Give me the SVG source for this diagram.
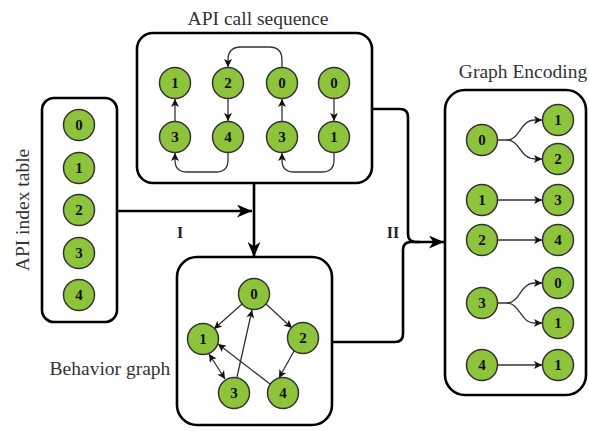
<svg xmlns="http://www.w3.org/2000/svg" width="589" height="431" viewBox="0 0 589 431">
<defs>
<style>
.box{fill:#fff;stroke:#000;stroke-width:2.6}
.n circle{fill:#8dc43c;stroke:#333;stroke-width:1.5}
.n text{font-family:"Liberation Serif",serif;font-weight:bold;font-size:15px;fill:#111;text-anchor:middle}
.title{font-family:"Liberation Serif",serif;font-size:19.5px;fill:#333;text-anchor:middle}
.lbl{font-family:"Liberation Serif",serif;font-weight:bold;font-size:16px;fill:#222;text-anchor:middle}
.e{fill:none;stroke:#333;stroke-width:1.3}
.c{fill:none;stroke:#000;stroke-width:2.6}
</style>
<marker id="a" viewBox="0 0 10 10" refX="10" refY="5" markerWidth="8" markerHeight="8" markerUnits="userSpaceOnUse" orient="auto">
<path d="M0,0 L10,5 L0,10 L2.5,5 z" fill="#111"/>
</marker>
<marker id="as" viewBox="0 0 10 10" refX="10" refY="5" markerWidth="8" markerHeight="8" markerUnits="userSpaceOnUse" orient="auto-start-reverse">
<path d="M0,0 L10,5 L0,10 L2.5,5 z" fill="#111"/>
</marker>
<marker id="A" viewBox="0 0 14 12" refX="14" refY="6" markerWidth="15" markerHeight="13" markerUnits="userSpaceOnUse" orient="auto">
<path d="M0,0 L14,6 L0,12 L4,6 z" fill="#000"/>
</marker>
</defs>

<!-- API call sequence -->
<g id="api-call-sequence">
<text class="title" x="258" y="25">API call sequence</text>
<rect class="box" x="137" y="33" width="235" height="150" rx="16"/>
<g class="n"><circle cx="175" cy="83" r="15.5"/><text x="175" y="88">1</text></g>
<g class="n"><circle cx="228" cy="83" r="15.5"/><text x="228" y="88">2</text></g>
<g class="n"><circle cx="282" cy="83" r="15.5"/><text x="282" y="88">0</text></g>
<g class="n"><circle cx="334" cy="83" r="15.5"/><text x="334" y="88">0</text></g>
<g class="n"><circle cx="175" cy="137" r="15.5"/><text x="175" y="142">3</text></g>
<g class="n"><circle cx="228" cy="137" r="15.5"/><text x="228" y="142">4</text></g>
<g class="n"><circle cx="282" cy="137" r="15.5"/><text x="282" y="142">3</text></g>
<g class="n"><circle cx="334" cy="137" r="15.5"/><text x="334" y="142">1</text></g>
<path class="e" d="M175,121 V99" marker-end="url(#a)"/>
<path class="e" d="M228,99 V121" marker-end="url(#a)"/>
<path class="e" d="M282,121 V99" marker-end="url(#a)"/>
<path class="e" d="M334,99 V121" marker-end="url(#a)"/>
<path class="e" d="M282,67 V60 Q282,47 269,47 H241 Q228,47 228,60 V67" marker-end="url(#a)"/>
<path class="e" d="M228,153 V160 Q228,172 216,172 H187 Q175,172 175,160 V153" marker-end="url(#a)"/>
<path class="e" d="M334,153 V160 Q334,172 322,172 H294 Q282,172 282,160 V153" marker-end="url(#a)"/>
</g>

<!-- API index table -->
<g id="api-index-table">
<text class="title" transform="translate(29,210) rotate(-90)">API index table</text>
<rect class="box" x="42" y="98" width="75" height="224" rx="12"/>
<g class="n"><circle cx="79" cy="125" r="15.5"/><text x="79" y="130">0</text></g>
<g class="n"><circle cx="79" cy="168" r="15.5"/><text x="79" y="173">1</text></g>
<g class="n"><circle cx="79" cy="210" r="15.5"/><text x="79" y="215">2</text></g>
<g class="n"><circle cx="79" cy="253" r="15.5"/><text x="79" y="258">3</text></g>
<g class="n"><circle cx="79" cy="295" r="15.5"/><text x="79" y="300">4</text></g>
</g>

<!-- Behavior graph -->
<g id="behavior-graph">
<text class="title" x="110" y="375">Behavior graph</text>
<rect class="box" x="177" y="257" width="155" height="168" rx="20"/>
<path class="e" d="M242,304 L214,329" marker-end="url(#a)"/>
<path class="e" d="M266,304 L292,328" marker-end="url(#a)"/>
<path class="e" d="M294,351 L279,378" marker-end="url(#a)"/>
<path class="e" d="M270,384 L218,344" marker-end="url(#a)"/>
<path class="e" d="M237,377 L252,310" marker-end="url(#a)"/>
<path class="e" d="M209,354 L225,379" marker-start="url(#as)" marker-end="url(#a)"/>
<g class="n"><circle cx="254" cy="294" r="15.5"/><text x="254" y="299">0</text></g>
<g class="n"><circle cx="203" cy="339" r="15.5"/><text x="203" y="344">1</text></g>
<g class="n"><circle cx="303" cy="338" r="15.5"/><text x="303" y="343">2</text></g>
<g class="n"><circle cx="234" cy="393" r="15.5"/><text x="234" y="398">3</text></g>
<g class="n"><circle cx="283" cy="393" r="15.5"/><text x="283" y="398">4</text></g>
</g>

<!-- Graph Encoding -->
<g id="graph-encoding">
<text class="title" x="523" y="78">Graph Encoding</text>
<rect class="box" x="445" y="90" width="141" height="305" rx="20"/>
<path class="e" d="M497,140 H507 C520,140 520,120 535,120 H542" marker-end="url(#a)"/>
<path class="e" d="M507,140 C520,140 520,159 535,159 H542" marker-end="url(#a)"/>
<path class="e" d="M497,200 H542" marker-end="url(#a)"/>
<path class="e" d="M497,240 H542" marker-end="url(#a)"/>
<path class="e" d="M497,303 H507 C520,303 520,283 535,283 H542" marker-end="url(#a)"/>
<path class="e" d="M507,303 C520,303 520,323 535,323 H542" marker-end="url(#a)"/>
<path class="e" d="M497,365 H542" marker-end="url(#a)"/>
<g class="n"><circle cx="482" cy="140" r="15.5"/><text x="482" y="145">0</text></g>
<g class="n"><circle cx="558" cy="120" r="15.5"/><text x="558" y="125">1</text></g>
<g class="n"><circle cx="558" cy="159" r="15.5"/><text x="558" y="164">2</text></g>
<g class="n"><circle cx="482" cy="200" r="15.5"/><text x="482" y="205">1</text></g>
<g class="n"><circle cx="558" cy="200" r="15.5"/><text x="558" y="205">3</text></g>
<g class="n"><circle cx="482" cy="240" r="15.5"/><text x="482" y="245">2</text></g>
<g class="n"><circle cx="558" cy="240" r="15.5"/><text x="558" y="245">4</text></g>
<g class="n"><circle cx="482" cy="303" r="15.5"/><text x="482" y="308">3</text></g>
<g class="n"><circle cx="558" cy="283" r="15.5"/><text x="558" y="288">0</text></g>
<g class="n"><circle cx="558" cy="323" r="15.5"/><text x="558" y="328">1</text></g>
<g class="n"><circle cx="482" cy="365" r="15.5"/><text x="482" y="370">4</text></g>
<g class="n"><circle cx="558" cy="365" r="15.5"/><text x="558" y="370">1</text></g>
</g>

<!-- Connectors -->
<g id="connectors">
<path class="c" d="M117,211 H252" marker-end="url(#A)"/>
<path class="c" d="M254,183 V257" marker-end="url(#A)"/>
<path class="c" d="M372,109 H400 Q408,109 408,117 V234 Q408,242 416,242 H444" marker-end="url(#A)"/>
<path class="c" d="M332,342 H395 Q403,342 403,334 V250 Q403,242 411,242 H420"/>
<text class="lbl" x="180" y="238">I</text>
<text class="lbl" x="393" y="238">II</text>
</g>
</svg>
